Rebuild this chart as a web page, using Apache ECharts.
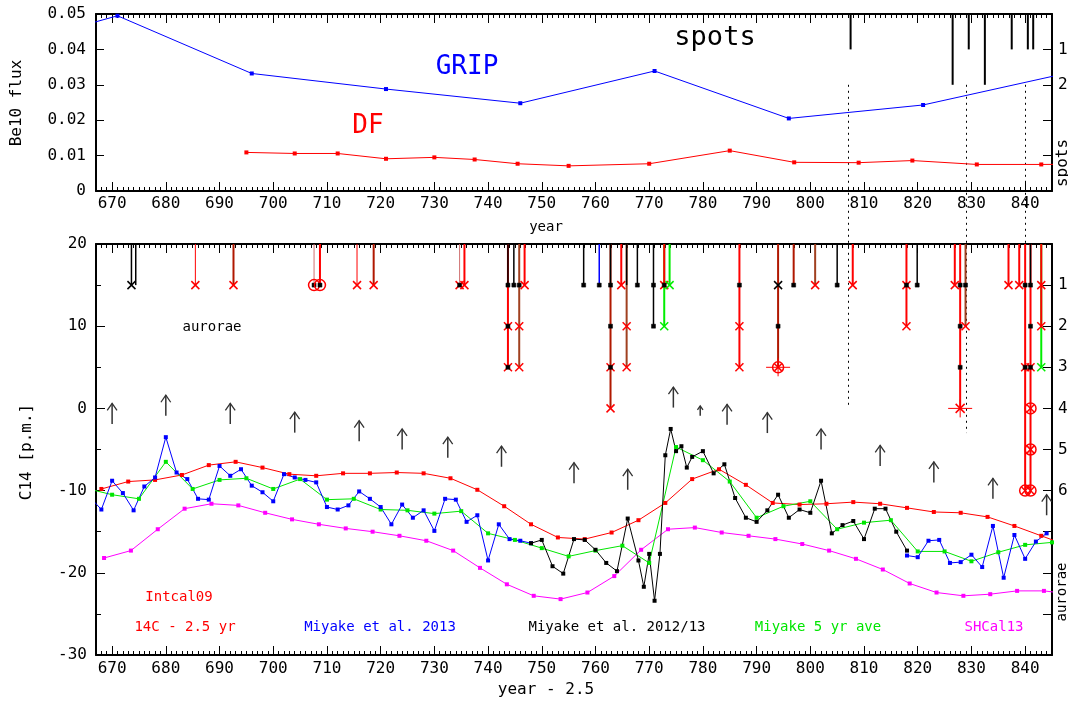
<!DOCTYPE html>
<html><head><meta charset="utf-8">
<script src="https://cdn.jsdelivr.net/npm/echarts@6/dist/echarts.min.js"></script>
<style>html,body{margin:0;padding:0;background:#fff}#c{width:1068px;height:705px}</style>
</head><body><div id="c"></div>
<script>
// ---------- data ----------
const xTickYears = [670,680,690,700,710,720,730,740,750,760,770,780,790,800,810,820,830,840];
const fluxTicks = [0,0.01,0.02,0.03,0.04,0.05];
const spotTickLabels = [1,2];
const auroraTickLabels = [1,2,3,4,5,6];

const gripYears = [646,671,696,721,746,771,796,821,846];
const gripFlux  = [0.0389,0.0495,0.0332,0.0288,0.0248,0.0339,0.0205,0.0243,0.0327];

const dfYears = [695,704,712,721,730,737.5,745.5,755,770,785,797,809,819,831,843,855];
const dfFlux  = [0.0109,0.0106,0.0106,0.0091,0.0095,0.0089,0.0077,0.0071,0.0077,0.0114,0.0081,0.0080,0.0086,0.0075,0.0075,0.0076];

const spotYears  = [807.5,826.5,829.5,832.5,837.5,840.5,841.5];
const spotCounts = [1,2,1,2,1,1,1];

const intcalYears = [668,673,678,683,688,693,698,703,708,713,718,723,728,733,738,743,748,753,758,763,768,773,778,783,788,793,798,803,808,813,818,823,828,833,838,843,848];
const intcalC14   = [-9.8,-8.9,-8.7,-8.1,-6.9,-6.5,-7.2,-8.0,-8.2,-7.9,-7.9,-7.8,-7.9,-8.5,-9.9,-11.9,-14.1,-15.7,-15.9,-15.1,-13.6,-11.5,-8.6,-7.4,-9.3,-11.5,-11.7,-11.6,-11.4,-11.6,-12.1,-12.6,-12.7,-13.2,-14.3,-15.5,-16.7];

const shcalYears = [668.5,673.5,678.5,683.5,688.5,693.5,698.5,703.5,708.5,713.5,718.5,723.5,728.5,733.5,738.5,743.5,748.5,753.5,758.5,763.5,768.5,773.5,778.5,783.5,788.5,793.5,798.5,803.5,808.5,813.5,818.5,823.5,828.5,833.5,838.5,843.5,848.5];
const shcalC14   = [-18.2,-17.3,-14.7,-12.2,-11.6,-11.8,-12.7,-13.5,-14.1,-14.6,-15.0,-15.5,-16.1,-17.3,-19.4,-21.4,-22.8,-23.2,-22.4,-20.4,-17.2,-14.7,-14.5,-15.1,-15.5,-15.9,-16.5,-17.3,-18.3,-19.6,-21.3,-22.4,-22.8,-22.6,-22.2,-22.2,-22.6];

const aveYears = [665,670,675,680,685,690,695,700,705,710,715,720,725,730,735,740,745,750,755,760,765,770,775,780,785,790,795,800,805,810,815,820,825,830,835,840,845];
const aveC14   = [-9.7,-10.5,-11.0,-6.5,-9.8,-8.7,-8.5,-9.8,-8.6,-11.1,-11.0,-12.3,-12.4,-12.8,-12.5,-15.2,-16.0,-17.0,-18.0,-17.3,-16.7,-18.8,-4.7,-6.3,-8.9,-13.3,-11.9,-11.3,-14.7,-13.9,-13.6,-17.4,-17.4,-18.6,-17.5,-16.6,-16.3];

const m13YearsA = [666,668,670,672,674,676,678,680,682,684,686,688,690,692,694,696,698,700,702,704,706,708,710,712,714,716,718,720,722,724,726,728,730,732,734,736,738,740,742,744,746,748];
const m13C14A   = [-10.9,-12.3,-8.8,-10.3,-12.4,-9.5,-8.4,-3.5,-7.8,-8.6,-11.0,-11.1,-7.0,-8.2,-7.4,-9.4,-10.2,-11.3,-8.0,-8.4,-8.7,-9.0,-12.0,-12.3,-11.8,-10.1,-11.0,-12.0,-14.1,-11.7,-13.3,-12.4,-14.9,-11.0,-11.1,-13.8,-13.0,-18.5,-14.1,-15.9,-16.1,-16.4];
const m13YearsB = [818,820,822,824,826,828,830,832,834,836,838,840,842,844];
const m13C14B   = [-17.9,-18.1,-16.1,-16.0,-18.8,-18.7,-17.8,-19.3,-14.3,-20.6,-15.4,-18.3,-16.2,-15.2];

const m12Years = [748,750,752,754,756,758,760,762,764,766,768,769,770,771,772,773,774,775,776,777,778,780,782,784,786,788,790,792,794,796,798,800,802,804,806,808,810,812,814,816,818];
const m12C14   = [-16.4,-16.0,-19.2,-20.1,-15.9,-16.0,-17.2,-18.8,-19.8,-13.4,-18.5,-21.7,-17.7,-23.4,-17.7,-5.7,-2.5,-5.2,-4.6,-7.2,-5.9,-5.2,-7.9,-6.8,-10.9,-13.3,-13.8,-12.4,-10.5,-13.3,-12.3,-12.7,-8.8,-15.2,-14.2,-13.7,-15.9,-12.2,-12.2,-15.0,-17.3];

const arrowYears = [670,680,692,704,716,724,732.5,742.5,756,766,774.5,779.5,784.5,792,802,813,823,834,844];
const arrowTips  = [0.6,1.6,0.6,-0.45,-1.5,-2.5,-3.5,-4.6,-6.6,-7.4,2.6,0.3,0.5,-0.5,-2.5,-4.5,-6.5,-8.5,-10.5];
const arrowLens  = [2.5,2.5,2.5,2.5,2.5,2.5,2.5,2.5,2.5,2.5,2.5,1.2,2.5,2.5,2.5,2.5,2.5,2.5,2.5];

// aurora records: year, deepest level, record kind, marker per level
const auroraYears = [673.6,674.4,685.5,692.6,707.6,708.7,715.6,718.7,734.7,735.6,743.7,743.7,744.8,745.8,746.8,757.8,760.7,762.8,762.8,764.8,765.8,765.8,767.8,770.8,772.8,772.8,773.8,786.8,794.0,796.9,800.9,805.0,807.9,817.9,819.9,826.9,827.9,828.9,836.9,838.9,840.0,841.0,841.0,843.0,843.0];
const auroraDepth = [1,1,1,1,1,1,1,1,1,1,3,1,1,3,1,1,1,4,1,1,3,1,1,2,2,1,1,3,3,1,1,1,1,2,1,1,4,2,1,1,6,6,1,3,2];
const auroraKind  = ['k','k','t','d','p','r','t','d','p','r','r','k','k','b','r','k','u','d','k','r','b','k','k','k','g','r','g','r','d','d','b','k','r','r','k','r','r','b','r','r','r','r','k','g','r'];
const auroraMarks = ['K','-','x','x','O','O','x','x','y','x','-yy','d','d','dxx','x','d','d','-dyx','d','x','-xx','-','d','dd','-g','y','g','dxx','Kd#','d','x','d','x','yx','d','x','ddd+','dx','x','x','d-y--c','ddyccc','-','--g','xx'];

const dotYears     = [807,829,840];
const dotTopSpots  = [2,2,2];
const dotLowLevels = [4,4.6,0];

// ---------- style ----------
const FONT = '"DejaVu Sans Mono", monospace';
const RED='#ff0000', BLUE='#0000ff', GREEN='#00e600', MAG='#ff00ff';
const XMIN=667, XMAX=845;
const kindStyle = {
  k:{c:'#000000',w:1.5}, r:{c:RED,w:2}, t:{c:RED,w:1}, d:{c:'#b01800',w:2},
  b:{c:'#a04020',w:2}, u:{c:BLUE,w:1.5}, g:{c:'#00ee00',w:2}, p:{c:'#d07070',w:1}
};
const minorYears = [];
for (let y = XMIN; y <= XMAX; y++) minorYears.push(y);

function xAx(grid, pos, line, ticks, len, labels, margin){
  const a = {type:'value', gridIndex:grid, position:pos, min:XMIN, max:XMAX,
    axisLine:{show:line, onZero:false, lineStyle:{color:'#000', width:2}},
    axisTick:{show:true, inside:true, length:len, customValues:ticks, lineStyle:{color:'#000', width:1}},
    axisLabel:{show:labels, margin:margin||6, color:'#000', fontSize:16, fontFamily:FONT},
    splitLine:{show:false}};
  if (labels) a.axisLabel.customValues = ticks;
  return a;
}
function ln(x1,y1,x2,y2,c,w){ return {type:'line', shape:{x1,y1,x2,y2}, style:{stroke:c, lineWidth:w}}; }
function cross(x,y,c,s){ return [ln(x-s,y-s,x+s,y+s,c,1.5), ln(x-s,y+s,x+s,y-s,c,1.5)]; }
function sq(x,y){ return {type:'rect', shape:{x:x-2,y:y-2,width:4,height:4}, style:{fill:'#000', stroke:'#000', lineWidth:0.5}}; }
function circ(x,y,c,r){ return {type:'circle', shape:{cx:x,cy:y,r:r}, style:{fill:'none', stroke:c, lineWidth:1.5}}; }
function hair(x,y){ return [ln(x-12,y,x+12,y,RED,1), ln(x,y-9,x,y+9,RED,1)]; }
function marker(m,x,y){
  switch(m){
    case 'x': return cross(x,y,RED,4);
    case 'K': return cross(x,y,'#000',4);
    case 'g': return cross(x,y,'#00ee00',4);
    case 'd': return [sq(x,y)];
    case 'y': return cross(x,y,RED,4).concat([sq(x,y)]);
    case 'O': return [circ(x,y,RED,5.5), sq(x,y)];
    case 'c': return [circ(x,y,RED,5.5)].concat(cross(x,y,RED,3.6));
    case '#': return hair(x,y).concat([circ(x,y,RED,5.5)], cross(x,y,RED,3.6));
    case '+': return hair(x,y).concat(cross(x,y,RED,4.5));
  }
  return [];
}
function auroraRender(params, api){
  const i = api.value(2), yr = api.value(0), depth = api.value(1);
  const st = kindStyle[auroraKind[i]];
  const p0 = api.coord([yr,0]), p1 = api.coord([yr,depth]);
  const ch = [ln(p0[0],p0[1],p1[0],p1[1],st.c,st.w)];
  const mk = auroraMarks[i];
  for (let L = 1; L <= mk.length; L++){
    const m = mk[L-1]; if (m === '-') continue;
    const p = api.coord([yr,L]);
    marker(m,p[0],p[1]).forEach(e => ch.push(e));
  }
  return {type:'group', children:ch};
}
function arrowRender(params, api){
  const yr = api.value(0), tip = api.value(1), len = api.value(2);
  const a = api.coord([yr,tip]), b = api.coord([yr,tip-len]);
  const L = b[1]-a[1], h = Math.min(7, L*0.4), w = h*0.7;
  return {type:'group', children:[
    ln(a[0],a[1],b[0],b[1],'#333',1.5),
    {type:'polyline', shape:{points:[[a[0]-w,a[1]+h],[a[0],a[1]],[a[0]+w,a[1]+h]]}, style:{stroke:'#333', lineWidth:1.3, fill:'none'}}
  ]};
}
function spotRender(params, api){
  const yr = api.value(0), n = api.value(1);
  const a = api.coord([yr,0]), b = api.coord([yr,n]);
  return ln(a[0],a[1],b[0],b[1],'#000',2);
}
function lineSeries(name, xs, ys, color, xi, yi){
  return {type:'line', name:name, xAxisIndex:xi, yAxisIndex:yi, data: xs.map((x,k)=>[x,ys[k]]),
    symbol:'rect', symbolSize:4, showSymbol:true, showAllSymbol:true, clip:true,
    lineStyle:{color:color, width:1}, itemStyle:{color:color}, emphasis:{disabled:true}};
}
const yCommon = {axisLine:{show:true, onZero:false, lineStyle:{color:'#000', width:2}},
  splitLine:{show:false}};

const option = {
  animation:false,
  backgroundColor:'#fff',
  textStyle:{fontFamily:FONT},
  grid:[
    {left:96, top:14, width:956, height:177, containLabel:false, outerBoundsMode:'none'},
    {left:96, top:244, width:956, height:411, containLabel:false, outerBoundsMode:'none'}
  ],
  xAxis:[
    xAx(0,'bottom',true,xTickYears,9,true,5),
    xAx(0,'bottom',false,minorYears,4,false),
    xAx(0,'top',true,xTickYears,9,false),
    xAx(0,'top',false,minorYears,4,false),
    xAx(1,'bottom',true,xTickYears,9,true,6),
    xAx(1,'bottom',false,minorYears,4,false),
    xAx(1,'top',true,xTickYears,9,false),
    xAx(1,'top',false,minorYears,4,false)
  ],
  yAxis:[
    Object.assign({type:'value', gridIndex:0, position:'left', min:0, max:0.05, interval:0.01,
      axisTick:{show:true, inside:true, length:8, customValues:fluxTicks, lineStyle:{color:'#000'}},
      axisLabel:{margin:10, color:'#000', fontSize:16, fontFamily:FONT, customValues:fluxTicks,
        formatter:v => v === 0 ? '0' : v.toFixed(2)}}, yCommon),
    Object.assign({type:'value', gridIndex:0, position:'right', inverse:true, min:0, max:5, interval:1,
      axisTick:{show:true, inside:true, length:9, customValues:[1,2,3,4], lineStyle:{color:'#000'}},
      axisLabel:{margin:6, color:'#000', fontSize:16, fontFamily:FONT, customValues:spotTickLabels}}, yCommon),
    Object.assign({type:'value', gridIndex:1, position:'left', min:-30, max:20, interval:10,
      axisTick:{show:true, inside:true, length:9, lineStyle:{color:'#000'}},
      minorTick:{show:true, splitNumber:2, length:5, lineStyle:{color:'#000'}},
      axisLabel:{margin:9, color:'#000', fontSize:16, fontFamily:FONT}}, yCommon),
    Object.assign({type:'value', gridIndex:1, position:'right', inverse:true, min:0, max:10, interval:1,
      axisTick:{show:true, inside:true, length:9, customValues:[1,2,3,4,5,6,7,8,9], lineStyle:{color:'#000'}},
      axisLabel:{margin:6, color:'#000', fontSize:16, fontFamily:FONT, customValues:auroraTickLabels}}, yCommon)
  ],
  series:[
    lineSeries('GRIP', gripYears, gripFlux, BLUE, 0, 0),
    lineSeries('DF', dfYears, dfFlux, RED, 0, 0),
    {type:'custom', name:'spots', xAxisIndex:0, yAxisIndex:1, renderItem:spotRender,
      encode:{x:0,y:1}, data: spotYears.map((y,k)=>[y,spotCounts[k]]), clip:false},
    lineSeries('SHCal13', shcalYears, shcalC14, MAG, 4, 2),
    lineSeries('Intcal09', intcalYears, intcalC14, RED, 4, 2),
    lineSeries('Miyake 5 yr ave', aveYears, aveC14, GREEN, 4, 2),
    lineSeries('Miyake 2013 a', m13YearsA, m13C14A, BLUE, 4, 2),
    lineSeries('Miyake 2013 b', m13YearsB, m13C14B, BLUE, 4, 2),
    lineSeries('Miyake 2012/13', m12Years, m12C14, '#000', 4, 2),
    {type:'custom', name:'arrows', xAxisIndex:4, yAxisIndex:2, renderItem:arrowRender,
      encode:{x:0,y:1}, data: arrowYears.map((y,k)=>[y,arrowTips[k],arrowLens[k]]), clip:false},
    {type:'custom', name:'aurorae', xAxisIndex:4, yAxisIndex:3, renderItem:auroraRender,
      encode:{x:0,y:1}, data: auroraYears.map((y,k)=>[y,auroraDepth[k],k]), clip:false, z:5}
  ]
};

const chart = echarts.init(document.getElementById('c'), null, {renderer:'canvas'});
chart.setOption(option);

function txt(t,x,y,size,color,rot){
  return {type:'text', x:x, y:y, rotation: rot ? Math.PI/2 : 0, z:10,
    style:{text:t, fill:color||'#000', font:size+'px '+FONT, align:'center', verticalAlign:'middle',
      textAlign:'center', textVerticalAlign:'middle'}};
}
const graphics = [
  txt('Be10 flux',17,103,16,'#000',true),
  txt('spots',1063,163,16,'#000',true),
  txt('C14 [p.m.]',27,452,16,'#000',true),
  txt('aurorae',1062,592,14,'#000',true),
  txt('year',546,227,14),
  txt('year - 2.5',546,690,16),
  txt('GRIP',467,67,26,BLUE),
  txt('DF',368,126,26,RED),
  txt('spots',715,38,27,'#000'),
  txt('aurorae',212,327,14),
  txt('Intcal09',179,597,14,RED),
  txt('14C - 2.5 yr',185,627,14,RED),
  txt('Miyake et al. 2013',380,627,14,BLUE),
  txt('Miyake et al. 2012/13',617,627,14,'#000'),
  txt('Miyake 5 yr ave',818,627,14,GREEN),
  txt('SHCal13',994,627,14,MAG)
];
dotYears.forEach((yr,k) => {
  const a = chart.convertToPixel({xAxisIndex:0, yAxisIndex:1}, [yr, dotTopSpots[k]]);
  const b = chart.convertToPixel({xAxisIndex:4, yAxisIndex:3}, [yr, dotLowLevels[k]]);
  const x = Math.round(a[0]) + 0.5;
  graphics.push({type:'line', z:1, shape:{x1:x,y1:a[1],x2:x,y2:b[1]},
    style:{stroke:'#000', lineWidth:1, lineDash:[2,4]}});
});
chart.setOption({graphic:graphics});
</script>
</body></html>
